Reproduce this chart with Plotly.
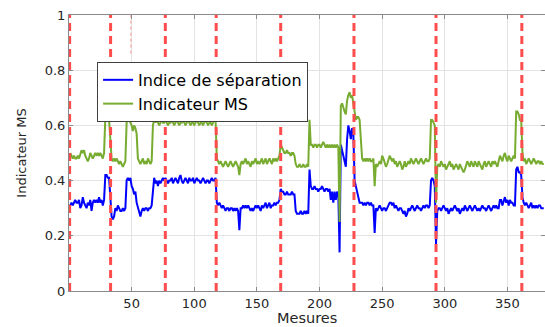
import plotly.graph_objects as go

# ---------------- data ----------------
indice_separation = [
    0.31,0.32,0.31,0.32,0.33,0.32,0.32,0.33,0.30,0.31,
    0.34,0.32,0.31,0.30,0.32,0.31,0.33,0.29,0.32,0.33,
    0.32,0.33,0.32,0.34,0.32,0.33,0.31,0.33,
    0.42,0.42,0.41,0.41,0.34,0.27,0.26,0.27,
    0.30,0.29,0.31,0.30,0.29,0.29,0.30,0.29,0.30,
    0.40,0.41,0.40,0.41,0.38,0.37,0.35,0.36,0.32,
    0.30,0.28,0.27,0.29,0.30,0.29,0.30,0.30,0.29,0.30,0.30,0.31,
    0.38,0.41,0.39,0.40,0.38,0.40,0.39,0.40,0.41,0.40,
    0.41,0.40,0.39,0.40,0.40,0.41,0.39,0.40,0.41,0.40,
    0.39,0.41,0.42,0.40,0.39,0.40,0.41,0.40,0.39,0.41,
    0.40,0.40,0.41,0.39,0.40,0.41,0.40,0.40,0.39,0.40,
    0.41,0.40,0.39,0.40,0.40,0.39,0.40,0.41,0.40,0.40,
    0.41,
    0.32,0.31,0.32,0.31,0.30,0.31,0.30,0.29,0.30,0.30,
    0.29,0.30,0.30,0.29,0.30,0.29,0.30,0.29,0.22,0.30,
    0.30,0.31,0.30,0.31,0.30,0.31,0.30,0.29,0.30,0.29,
    0.30,0.31,0.30,0.31,0.30,0.29,0.31,0.30,0.31,0.32,
    0.30,0.31,0.32,0.30,0.31,0.31,0.32,0.31,0.32,0.32,
    0.33,
    0.37,0.36,0.36,0.35,0.35,0.36,0.35,0.35,0.35,0.36,0.35,0.35,
    0.29,0.28,0.28,0.28,0.29,0.28,0.28,0.29,0.28,0.29,0.28,
    0.44,
    0.38,0.37,0.37,0.38,0.37,0.37,0.36,0.37,0.37,0.38,0.37,0.36,0.37,0.37,0.36,0.37,
    0.33,0.36,0.32,0.36,0.33,0.36,0.35,
    0.14,
    0.53,0.51,0.50,0.47,0.45,0.55,0.60,0.58,0.55,0.59,0.57,0.40,0.38,0.36,0.34,0.32,0.32,
    0.32,0.31,0.32,0.31,0.32,0.32,0.31,0.32,0.31,0.31,
    0.21,
    0.30,0.29,0.30,0.31,0.30,0.29,0.30,0.30,0.29,0.30,
    0.31,0.32,0.32,0.31,0.32,0.30,0.31,0.30,0.29,0.30,
    0.30,0.29,0.28,0.29,0.27,0.28,0.30,0.29,0.30,0.31,
    0.30,0.29,0.30,0.31,0.30,0.30,0.29,0.30,0.31,0.30,
    0.31,0.31,0.30,0.31,
    0.40,0.41,0.40,0.38,
    0.17,
    0.29,0.30,0.30,0.29,0.30,0.31,0.30,0.29,0.30,0.28,
    0.29,0.30,0.29,0.30,0.31,0.30,0.29,0.30,0.28,0.29,
    0.30,0.29,0.31,0.30,0.29,0.30,0.31,0.30,0.29,0.30,
    0.31,0.30,0.29,0.30,0.29,0.30,0.31,0.30,0.30,0.29,
    0.30,0.31,0.30,0.29,0.30,0.31,0.30,0.31,0.30,0.30,
    0.33,0.33,0.31,0.33,0.34,0.32,0.33,0.31,0.33,0.32,0.32,0.31,0.31,
    0.44,0.45,0.43,0.43,0.42,
    0.34,
    0.32,0.31,0.32,0.31,0.30,0.31,0.32,0.30,0.31,0.30,0.31,0.30,0.31,0.31,0.30,0.30,0.30,
]

indicateur_ms = [
    0.50,0.49,0.48,0.49,0.48,0.48,0.49,0.48,0.50,0.51,
    0.50,0.51,0.49,0.48,0.47,0.48,0.50,0.49,0.48,0.49,
    0.50,0.49,0.50,0.49,0.50,0.49,0.48,0.50,
    0.63,0.63,0.62,0.62,0.55,
    0.48,0.47,0.48,0.47,0.48,0.47,0.46,0.47,0.46,0.45,0.46,0.47,
    0.61,0.62,0.62,0.61,0.60,0.58,0.60,0.59,0.57,
    0.48,0.47,0.46,0.47,0.48,0.46,0.47,0.46,0.48,0.47,0.46,0.47,
    0.60,0.62,0.61,0.62,0.61,0.60,0.61,0.62,0.61,0.61,
    0.62,0.61,0.60,0.61,0.61,0.62,0.61,0.60,0.61,0.62,
    0.61,0.60,0.61,0.61,0.62,0.61,0.60,0.61,0.62,0.61,
    0.60,0.61,0.61,0.60,0.61,0.62,0.61,0.60,0.61,0.61,
    0.60,0.61,0.62,0.61,0.60,0.61,0.61,0.60,0.61,0.62,
    0.62,
    0.48,0.47,0.46,0.47,0.46,0.45,0.46,0.47,0.46,0.45,
    0.46,0.47,0.46,0.45,0.46,0.47,0.46,0.45,0.42,0.46,
    0.47,0.46,0.47,0.48,0.46,0.47,0.46,0.45,0.47,0.46,
    0.47,0.48,0.46,0.47,0.46,0.47,0.48,0.46,0.47,0.48,
    0.46,0.47,0.48,0.47,0.46,0.48,0.47,0.48,0.47,0.48,
    0.49,
    0.53,0.52,0.51,0.50,0.50,0.51,0.50,0.50,0.49,0.50,0.50,0.49,
    0.46,0.45,0.45,0.46,0.45,0.45,0.46,0.45,0.45,0.46,0.45,
    0.62,
    0.53,0.53,0.52,0.53,0.53,0.52,0.53,0.53,0.52,0.53,0.54,0.53,0.52,0.53,0.52,0.53,
    0.52,0.53,0.52,0.53,0.52,0.53,0.52,
    0.25,
    0.67,0.68,0.66,0.65,0.64,0.69,0.71,0.72,0.70,0.71,0.68,0.64,0.62,0.63,0.63,0.62,0.56,
    0.48,0.47,0.48,0.47,0.48,0.47,0.48,0.47,0.47,0.48,
    0.38,
    0.46,0.45,0.46,0.47,0.46,0.49,0.48,0.46,0.45,0.46,
    0.48,0.49,0.48,0.47,0.48,0.46,0.47,0.45,0.46,0.47,
    0.46,0.44,0.45,0.47,0.45,0.46,0.47,0.46,0.48,0.47,
    0.46,0.47,0.48,0.47,0.46,0.47,0.48,0.47,0.46,0.47,
    0.48,0.47,0.47,0.48,
    0.62,0.62,0.61,0.60,
    0.32,
    0.45,0.46,0.45,0.47,0.46,0.45,0.46,0.44,0.45,0.46,
    0.47,0.45,0.46,0.44,0.45,0.46,0.45,0.44,0.46,0.45,
    0.44,0.43,0.44,0.46,0.47,0.46,0.45,0.47,0.46,0.45,
    0.47,0.46,0.45,0.47,0.46,0.45,0.44,0.46,0.47,0.45,
    0.46,0.47,0.46,0.45,0.47,0.46,0.47,0.46,0.45,0.47,
    0.49,0.48,0.47,0.49,0.50,0.48,0.47,0.49,0.48,0.47,0.48,0.49,0.48,
    0.65,0.65,0.64,0.62,0.62,
    0.50,
    0.47,0.48,0.46,0.47,0.48,0.47,0.46,0.47,0.48,0.47,0.46,0.47,0.47,0.46,0.47,0.46,0.46,
]

mesures = list(range(1, len(indice_separation) + 1))

# segment boundaries (red dashed lines), in measurement units
boundaries = [0.5, 33.2, 76.9, 117.5, 169.0, 227.5, 293.0, 361.5]
faint_mark_x = [49.4]
faint_mark_y = [0.86, 1.0]

x_ticks = [50, 100, 150, 200, 250, 300, 350]
y_ticks = [0, 0.2, 0.4, 0.6, 0.8, 1]
y_ticktext = ["0", "0.2", "0.4", "0.6", "0.8", "1"]
x_title = "Mesures"
y_title = "Indicateur MS"

# ---------------- figure ----------------
FONT = "DejaVu Sans, Liberation Sans, Arial, sans-serif"

fig = go.Figure()
fig.add_trace(go.Scatter(
    x=mesures, y=indice_separation, mode="lines",
    name="Indice de séparation",
    line=dict(color="#0000ff", width=2),
))
fig.add_trace(go.Scatter(
    x=mesures, y=indicateur_ms, mode="lines",
    name="Indicateur MS",
    line=dict(color="#77ac30", width=2),
))

bx, by = [], []
for b in boundaries:
    bx += [b, b, None]
    by += [0, 1, None]
fig.add_trace(go.Scatter(
    x=bx, y=by, mode="lines", showlegend=False, hoverinfo="skip",
    line=dict(color="#ff4d4d", width=3, dash="8px,5px"),
))
fig.add_trace(go.Scatter(
    x=[faint_mark_x[0], faint_mark_x[0]], y=faint_mark_y, mode="lines",
    showlegend=False, hoverinfo="skip",
    line=dict(color="rgba(255,80,80,0.6)", width=1, dash="dot"),
))

axis_common = dict(
    showline=True, linecolor="#8a8a8a", linewidth=1, mirror="ticks",
    ticks="inside", ticklen=4, tickcolor="#8a8a8a",
    showgrid=True, gridcolor="#e3e3e3", gridwidth=1,
    zeroline=False,
    tickfont=dict(family=FONT, size=13, color="#262626"),
)

fig.update_layout(
    width=545, height=327,
    margin=dict(l=69, r=0, t=15, b=36),
    paper_bgcolor="white", plot_bgcolor="white",
    font=dict(family=FONT, color="#262626"),
    xaxis=dict(
        range=[0, 380], tickvals=x_ticks,
        automargin=False,
        **axis_common,
    ),
    yaxis=dict(
        range=[0, 1], tickvals=y_ticks, ticktext=y_ticktext,
        title=dict(text=y_title, font=dict(family=FONT, size=13, color="#262626")),
        automargin=False,
        **axis_common,
    ),
    legend=dict(
        x=0.059, y=0.83, xanchor="left", yanchor="top",
        bgcolor="white", bordercolor="#404040", borderwidth=1,
        font=dict(family=FONT, size=16, color="black"),
        tracegroupgap=0, itemwidth=30,
    ),
    showlegend=True,
    annotations=[dict(
        text=x_title, xref="paper", yref="paper",
        x=0.5, y=-0.1304, xanchor="center", yanchor="bottom",
        showarrow=False, borderpad=0,
        font=dict(family=FONT, size=14.5, color="#262626"),
    )],
)

fig.write_html("out.html")
